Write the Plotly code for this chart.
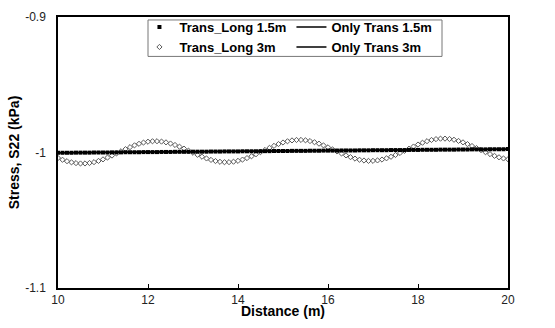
import plotly.graph_objects as go

# Sampling grid along the section (m)
distance = [round(10 + 0.1 * i, 1) for i in range(101)]

# Stress S22 (kPa), transverse + longitudinal loading, 1.5 m spacing
trans_long_15 = (
    [-1.0002] * 4 + [-1.0001] * 4 + [-1.0000] * 4 + [-0.9999] * 3 +
    [-0.9998] * 4 + [-0.9997] * 4 + [-0.9996] * 3 + [-0.9995] * 4 +
    [-0.9994] * 4 + [-0.9993] * 3 + [-0.9992] * 4 + [-0.9991] * 4 +
    [-0.9990] * 3 + [-0.9989] * 4 + [-0.9988] * 4 + [-0.9987] * 3 +
    [-0.9986] * 4 + [-0.9985] * 4 + [-0.9984] * 3 + [-0.9983] * 4 +
    [-0.9982] * 4 + [-0.9981] * 3 + [-0.9980] * 4 + [-0.9979] * 4 +
    [-0.9978] * 3 + [-0.9977] * 4 + [-0.9976] * 4 + [-0.9975]
)

# Stress S22 (kPa), transverse + longitudinal loading, 3 m spacing
trans_long_3 = [
    -1.00407, -1.00535, -1.00642, -1.00727, -1.00784, -1.00811, -1.00808,
    -1.00775, -1.00712, -1.00621, -1.00508, -1.00374, -1.00226, -1.00069,
    -0.99910, -0.99753, -0.99605, -0.99471, -0.99358, -0.99267, -0.99204,
    -0.99171, -0.99168, -0.99195, -0.99252, -0.99337, -0.99444, -0.99572,
    -0.99714, -0.99865, -1.00018, -1.00169, -1.00311, -1.00439, -1.00546,
    -1.00631, -1.00688, -1.00715, -1.00712, -1.00679, -1.00616, -1.00525,
    -1.00412, -1.00278, -1.00130, -0.99973, -0.99814, -0.99657, -0.99509,
    -0.99375, -0.99262, -0.99171, -0.99108, -0.99075, -0.99072, -0.99099,
    -0.99156, -0.99241, -0.99348, -0.99476, -0.99618, -0.99769, -0.99922,
    -1.00073, -1.00215, -1.00343, -1.00450, -1.00535, -1.00592, -1.00619,
    -1.00616, -1.00583, -1.00520, -1.00429, -1.00316, -1.00182, -1.00034,
    -0.99877, -0.99718, -0.99561, -0.99413, -0.99279, -0.99166, -0.99075,
    -0.99012, -0.98979, -0.98976, -0.99003, -0.99060, -0.99145, -0.99252,
    -0.99380, -0.99522, -0.99673, -0.99826, -0.99977, -1.00119, -1.00247,
    -1.00354, -1.00439, -1.00496,
]

# Transverse loading only
only_trans_x = [10, 20]
only_trans_15 = [-1.0002, -0.9976]
only_trans_3 = [-1.0001, -0.9975]

x_tick_vals = [10, 12, 14, 16, 18, 20]
x_tick_text = ["10", "12", "14", "16", "18", "20"]
y_tick_vals = [-1.1, -1.0, -0.9]
y_tick_text = ["-1.1", "-1", "-0.9"]

FONT = "Liberation Sans, Arial, sans-serif"

fig = go.Figure()
fig.add_trace(go.Scatter(
    x=distance, y=trans_long_3, name="Trans_Long 3m", mode="markers",
    marker=dict(symbol="diamond-open", size=4, color="#5a5a5a",
                line=dict(width=1, color="#5a5a5a")),
    legendrank=3,
))
fig.add_trace(go.Scatter(
    x=only_trans_x, y=only_trans_15, name="Only Trans 1.5m", mode="lines",
    line=dict(color="black", width=1.5), legendrank=2,
))
fig.add_trace(go.Scatter(
    x=only_trans_x, y=only_trans_3, name="Only Trans 3m", mode="lines",
    line=dict(color="black", width=1.5), legendrank=4,
))
fig.add_trace(go.Scatter(
    x=distance, y=trans_long_15, name="Trans_Long 1.5m", mode="markers",
    marker=dict(symbol="square", size=4, color="black"),
    legendrank=1,
))

fig.update_layout(
    width=555, height=328,
    margin=dict(l=58, r=47, t=13, b=40),
    paper_bgcolor="white", plot_bgcolor="white",
    font=dict(family=FONT, size=12, color="#222222"),
    showlegend=True,
    legend=dict(
        orientation="h", x=0.181, y=1.018, xanchor="left", yanchor="top",
        entrywidth=107, entrywidthmode="pixels", itemwidth=30,
        bgcolor="rgba(0,0,0,0)", borderwidth=0,
        font=dict(family=FONT, size=13, color="black", weight="bold"),
        traceorder="normal",
    ),
    # legend frame
    shapes=[dict(
        type="rect", xref="paper", yref="paper", layer="below",
        x0=(148 - 58) / 450, x1=(442 - 58) / 450,
        y0=(288 - 53) / 275, y1=(288 - 16) / 275,
        line=dict(color="#777777", width=1), fillcolor="white",
    )],
    xaxis=dict(
        range=[10, 20], tickmode="array", tickvals=x_tick_vals, ticktext=x_tick_text,
        showgrid=False, zeroline=False, showline=True, linecolor="black",
        linewidth=1.5, mirror=True, ticks="inside", ticklen=4, tickcolor="black",
        tickfont=dict(size=12, color="#222222"), automargin=False,
    ),
    yaxis=dict(
        range=[-1.1, -0.9], tickmode="array", tickvals=y_tick_vals, ticktext=y_tick_text,
        showgrid=False, zeroline=False, showline=True, linecolor="black",
        linewidth=1.5, mirror=True, ticks="", tickfont=dict(size=12, color="#222222"),
        ticklabelstandoff=8, automargin=False,
        title=dict(text="Stress, S22 (kPa)", standoff=2,
                   font=dict(family=FONT, size=14, color="black", weight="bold")),
    ),
    annotations=[dict(
        text="Distance (m)", xref="paper", yref="paper", x=0.5, y=-0.085,
        xanchor="center", yanchor="middle", showarrow=False,
        font=dict(family=FONT, size=14, color="black", weight="bold"),
    )],
)

fig.write_html("out.html")
